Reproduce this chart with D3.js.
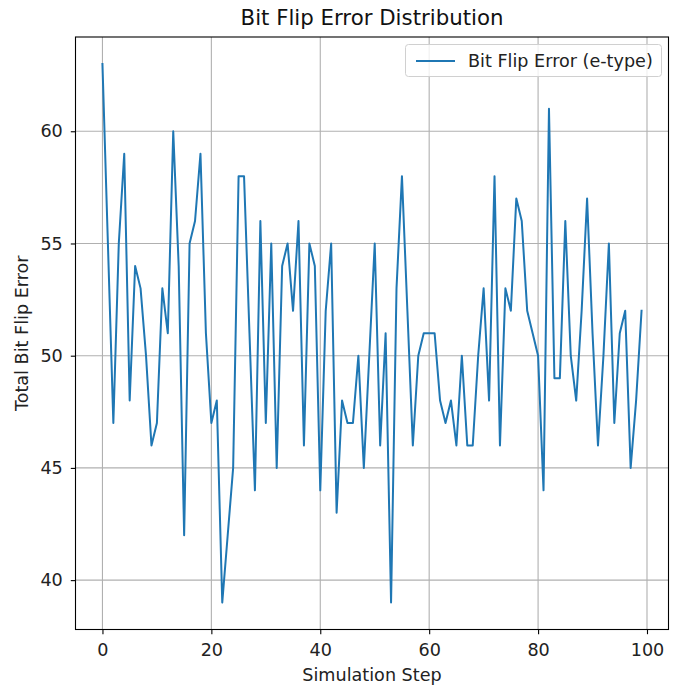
<!DOCTYPE html>
<html>
<head>
<meta charset="utf-8">
<script src="https://cdn.jsdelivr.net/npm/d3@7"></script>
<style>
  html, body { margin: 0; padding: 0; background: #fff; }
  svg { display: block; font-family: "DejaVu Sans", sans-serif; }
</style>
</head>
<body>
<svg id="chart" width="685" height="686"></svg>
<script>
const steps = d3.range(0, 100);
const errors = [
  63, 55, 47, 55, 59, 48, 54, 53, 50, 46,
  47, 53, 51, 60, 54, 42, 55, 56, 59, 51,
  47, 48, 39, 42, 45, 58, 58, 51, 44, 56,
  47, 55, 45, 54, 55, 52, 56, 46, 55, 54,
  44, 52, 55, 43, 48, 47, 47, 50, 45, 50,
  55, 46, 51, 39, 53, 58, 52, 46, 50, 51,
  51, 51, 48, 47, 48, 46, 50, 46, 46, 50,
  53, 48, 58, 46, 53, 52, 57, 56, 52, 51,
  50, 44, 61, 49, 49, 56, 50, 48, 52, 57,
  51, 46, 50, 55, 47, 51, 52, 45, 48, 52
];
const xTicks = [0, 20, 40, 60, 80, 100];
const yTicks = [40, 45, 50, 55, 60];
const title = "Bit Flip Error Distribution";
const xLabel = "Simulation Step";
const yLabel = "Total Bit Flip Error";
const seriesName = "Bit Flip Error (e-type)";

const svg = d3.select("#chart");
const L = 75.5, R = 668.5, T = 37, B = 629.5;
const fs = "17.6px";

const x = d3.scaleLinear().domain([-4.95, 103.95]).range([L, R]);
const y = d3.scaleLinear().domain([37.8, 64.2]).range([B, T]);

// grid
const g = svg.append("g");
g.selectAll(".vg").data(xTicks).enter().append("line")
  .attr("x1", d => x(d)).attr("x2", d => x(d))
  .attr("y1", T).attr("y2", B)
  .attr("stroke", "#b0b0b0").attr("stroke-width", 1.1);
g.selectAll(".hg").data(yTicks).enter().append("line")
  .attr("x1", L).attr("x2", R)
  .attr("y1", d => y(d)).attr("y2", d => y(d))
  .attr("stroke", "#b0b0b0").attr("stroke-width", 1.1);

// line
const line = d3.line().x((d, i) => x(steps[i])).y(d => y(d));
svg.append("path").datum(errors)
  .attr("d", line)
  .attr("fill", "none")
  .attr("stroke", "#1f77b4")
  .attr("stroke-width", 2)
  .attr("stroke-linejoin", "round")
  .attr("stroke-linecap", "square");

// axes
const xAxis = d3.axisBottom(x).tickValues(xTicks).tickSize(4.7).tickPadding(9).tickFormat(d3.format("d"));
const yAxis = d3.axisLeft(y).tickValues(yTicks).tickSize(4.7).tickPadding(8).tickFormat(d3.format("d"));

const xa = svg.append("g").attr("transform", `translate(0,${B})`).call(xAxis);
const ya = svg.append("g").attr("transform", `translate(${L},0)`).call(yAxis);
[xa, ya].forEach(a => {
  a.select(".domain").remove();
  a.selectAll("line").attr("stroke", "#000").attr("stroke-width", 1.1);
  a.selectAll("text").attr("fill", "#222").style("font-size", fs).style("font-family", "DejaVu Sans, sans-serif");
});

// frame
svg.append("rect")
  .attr("x", L).attr("y", T).attr("width", R - L).attr("height", B - T)
  .attr("fill", "none").attr("stroke", "#000").attr("stroke-width", 1.1);

// labels
svg.append("text").attr("x", (L + R) / 2).attr("y", 25)
  .attr("text-anchor", "middle").attr("fill", "#111").style("font-size", "21.3px").text(title);
svg.append("text").attr("x", (L + R) / 2).attr("y", 681)
  .attr("text-anchor", "middle").attr("fill", "#222").style("font-size", fs).text(xLabel);
svg.append("text")
  .attr("transform", `translate(28,${(T + B) / 2}) rotate(-90)`)
  .attr("text-anchor", "middle").attr("fill", "#222").style("font-size", fs).text(yLabel);

// legend
const lg = svg.append("g");
lg.append("rect")
  .attr("x", 405.5).attr("y", 44.5).attr("width", 256).attr("height", 32)
  .attr("rx", 3).attr("fill", "#fff").attr("fill-opacity", 0.8)
  .attr("stroke", "#d0d0d0").attr("stroke-width", 1);
lg.append("line")
  .attr("x1", 416).attr("x2", 455).attr("y1", 61).attr("y2", 61)
  .attr("stroke", "#1f77b4").attr("stroke-width", 2);
lg.append("text").attr("x", 468).attr("y", 67)
  .attr("fill", "#222").style("font-size", fs).text(seriesName);
</script>
</body>
</html>
